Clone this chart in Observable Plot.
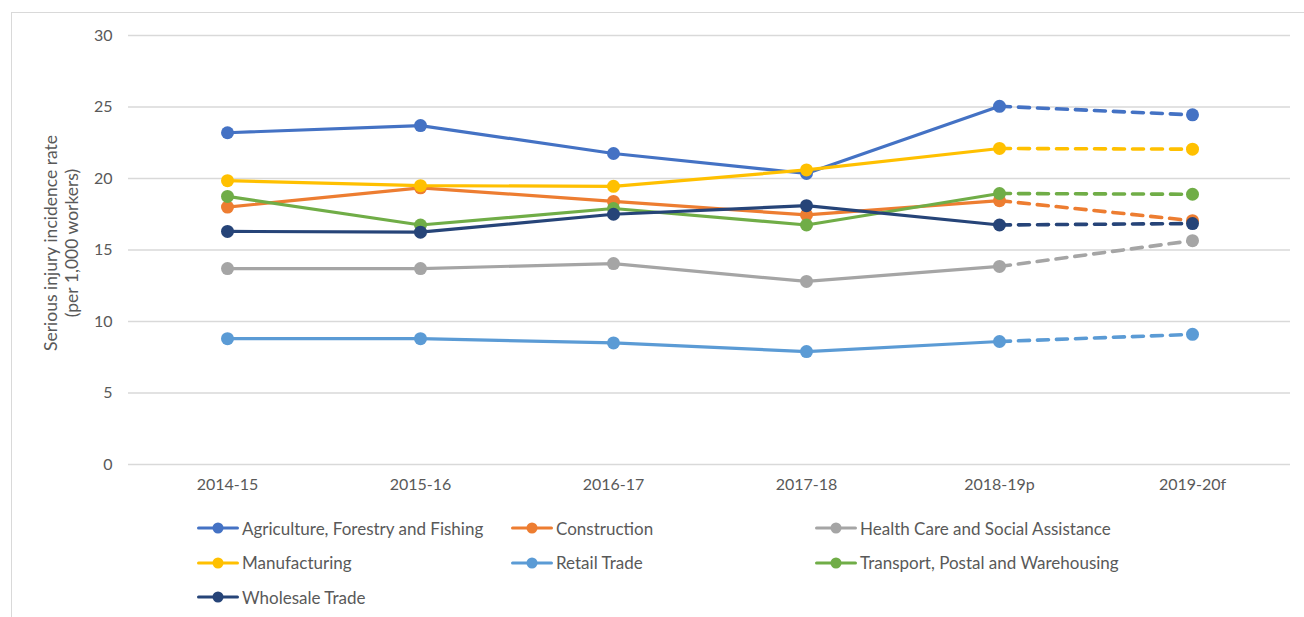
<!DOCTYPE html>
<html><head><meta charset="utf-8">
<script src="https://cdn.jsdelivr.net/npm/d3@7"></script>
<script src="https://cdn.jsdelivr.net/npm/@observablehq/plot@0.6"></script>
<style>
body{margin:0;background:#fff;overflow:hidden;font-family:Lato, sans-serif;}
#frame{position:absolute;left:11px;top:12px;width:1320px;height:640px;border:1px solid #d9d9d9;}
#chart{position:absolute;left:0;top:0;}
#legend{position:absolute;left:197px;top:511px;display:grid;grid-template-columns:314px 304px 320px;grid-auto-rows:34.5px;}
.item{display:flex;align-items:center;font-size:17px;color:#595959;white-space:nowrap;}
.item svg{margin-right:3px;}
</style></head><body>
<div id="frame"></div><div id="chart"></div><div id="legend"></div>
<script>
const categories = ["2014-15","2015-16","2016-17","2017-18","2018-19p","2019-20f"];
const seriesNames = ["Agriculture, Forestry and Fishing","Construction","Health Care and Social Assistance","Manufacturing","Retail Trade","Transport, Postal and Warehousing","Wholesale Trade"];
const seriesColors = ["#4472C4","#ED7D31","#A5A5A5","#FFC000","#5B9BD5","#70AD47","#264478"];
const agriculture = [23.2, 23.7, 21.75, 20.35, 25.05, 24.45];
const construction = [18.0, 19.35, 18.4, 17.45, 18.45, 17.05];
const healthCare = [13.7, 13.7, 14.05, 12.8, 13.85, 15.65];
const manufacturing = [19.85, 19.5, 19.45, 20.6, 22.1, 22.05];
const retailTrade = [8.8, 8.8, 8.5, 7.9, 8.6, 9.1];
const transport = [18.75, 16.75, 17.9, 16.75, 18.95, 18.9];
const wholesaleTrade = [16.3, 16.25, 17.5, 18.1, 16.75, 16.85];
const yTicks = [0, 5, 10, 15, 20, 25, 30];
const forecastFrom = "2018-19p";
const yTitle = "Serious injury incidence rate\n(per 1,000 workers)";

const seriesValues = [agriculture, construction, healthCare, manufacturing, retailTrade, transport, wholesaleTrade];
const fIdx = categories.indexOf(forecastFrom);

const marks = [
  Plot.gridY(yTicks, {stroke: "#d9d9d9", strokeOpacity: 1, strokeWidth: 1.3}),
  Plot.axisY(yTicks, {tickSize: 0, tickPadding: 16, fontSize: 16, color: "#595959", label: null}),
  Plot.axisX({tickSize: 0, tickPadding: 14, fontSize: 16, color: "#595959", label: null}),
  Plot.text([yTitle], {frameAnchor: "left", textAnchor: "middle", lineAnchor: "middle", rotate: -90, dx: -68, dy: -7, fontSize: 17.5, lineHeight: 1.2, fill: "#595959"})
];
seriesNames.forEach((name, i) => {
  const rows = categories.map((c, j) => ({period: c, value: seriesValues[i][j], series: name}));
  const solid = rows.slice(0, fIdx + 1);
  const dashed = rows.slice(fIdx);
  marks.push(Plot.line(solid, {x: "period", y: "value", stroke: seriesColors[i], strokeWidth: 3.2, strokeLinejoin: "round", strokeLinecap: "round"}));
  marks.push(Plot.line(dashed, {x: "period", y: "value", stroke: seriesColors[i], strokeWidth: 3.6, strokeDasharray: "11,8", strokeLinecap: "round"}));
  marks.push(Plot.dot(rows, {x: "period", y: "value", r: 6.5, fill: seriesColors[i], stroke: "none"}));
});

const chart = Plot.plot({
  width: 1304,
  height: 500,
  marginLeft: 128,
  marginRight: 14,
  marginTop: 35,
  marginBottom: 36,
  style: {fontFamily: "Lato, sans-serif", fontSize: "16px", color: "#595959", background: "transparent"},
  x: {type: "point", domain: categories, padding: 0.5, label: null},
  y: {domain: [0, 30], label: null},
  marks
});
document.getElementById("chart").appendChild(chart);

const legend = document.getElementById("legend");
seriesNames.forEach((name, i) => {
  const item = document.createElement("div");
  item.className = "item";
  item.innerHTML = `<svg width="42" height="14"><line x1="1.5" x2="40.5" y1="7" y2="7" stroke="${seriesColors[i]}" stroke-width="3" stroke-linecap="round"/><circle cx="21" cy="7" r="5.5" fill="${seriesColors[i]}"/></svg><span>${name}</span>`;
  legend.appendChild(item);
});
</script>
</body></html>
